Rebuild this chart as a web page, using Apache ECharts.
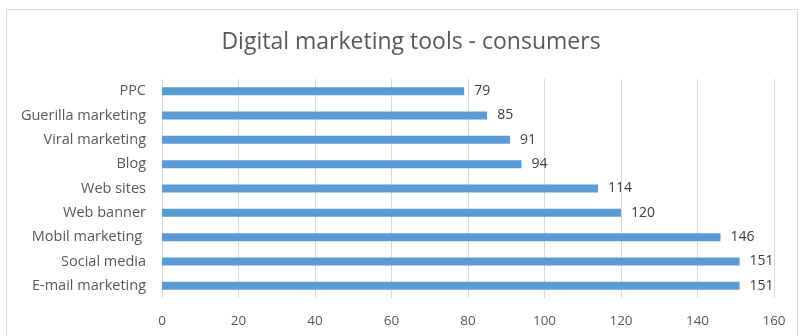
<!DOCTYPE html>
<html>
<head>
<meta charset="utf-8">
<script src="https://cdn.jsdelivr.net/npm/echarts@6/dist/echarts.min.js"></script>
<style>
  html, body { margin: 0; padding: 0; background: #fff; }
  .frame { position: absolute; left: 6px; top: 9px; width: 792px; height: 340px; border: 1px solid #d9d9d9; box-sizing: border-box; }
  .chart { position: absolute; left: 0; top: 0; width: 801px; height: 336px; }
</style>
</head>
<body>
<div class="frame"></div>
<div class="chart"></div>
<script>
// categories listed bottom-to-top (category axis starts at the bottom)
const categories = ['E-mail marketing', 'Social media', 'Mobil marketing ', 'Web banner', 'Web sites', 'Blog', 'Viral marketing', 'Guerilla marketing', 'PPC']
const values = [151, 151, 146, 120, 114, 94, 91, 85, 79]
const xTicks = [0, 20, 40, 60, 80, 100, 120, 140, 160]

const chart = echarts.init(document.querySelector('.chart'))

const option = {
  animation: false,
  title: {
    text: 'Digital marketing tools - consumers',
    left: 406,
    textAlign: 'center',
    top: 26,
    textStyle: {
      color: '#595959',
      fontSize: 23,
      fontWeight: 'normal',
      fontFamily: 'Open Sans'
    }
  },
  grid: {
    left: 162,
    right: 27,
    top: 79,
    bottom: 38
  },
  xAxis: {
    type: 'value',
    min: xTicks[0],
    max: xTicks[xTicks.length - 1],
    interval: 20,
    axisLine: { show: false },
    axisTick: { show: false },
    splitLine: { lineStyle: { color: '#d9d9d9', width: 1 } },
    axisLabel: {
      color: '#595959',
      fontSize: 13.5,
      fontFamily: 'Open Sans',
      margin: 16
    }
  },
  yAxis: {
    type: 'category',
    data: categories,
    axisLine: { show: false },
    axisTick: { show: false },
    axisLabel: {
      color: '#595959',
      fontSize: 14.5,
      fontFamily: 'Open Sans',
      margin: 16
    }
  },
  series: [
    {
      type: 'bar',
      data: values,
      barWidth: 8,
      itemStyle: { color: '#5b9bd5' },
      label: {
        show: true,
        position: 'right',
        distance: 10,
        color: '#404040',
        fontSize: 14,
        fontFamily: 'Open Sans'
      }
    }
  ]
}

chart.setOption(option)
</script>
</body>
</html>
